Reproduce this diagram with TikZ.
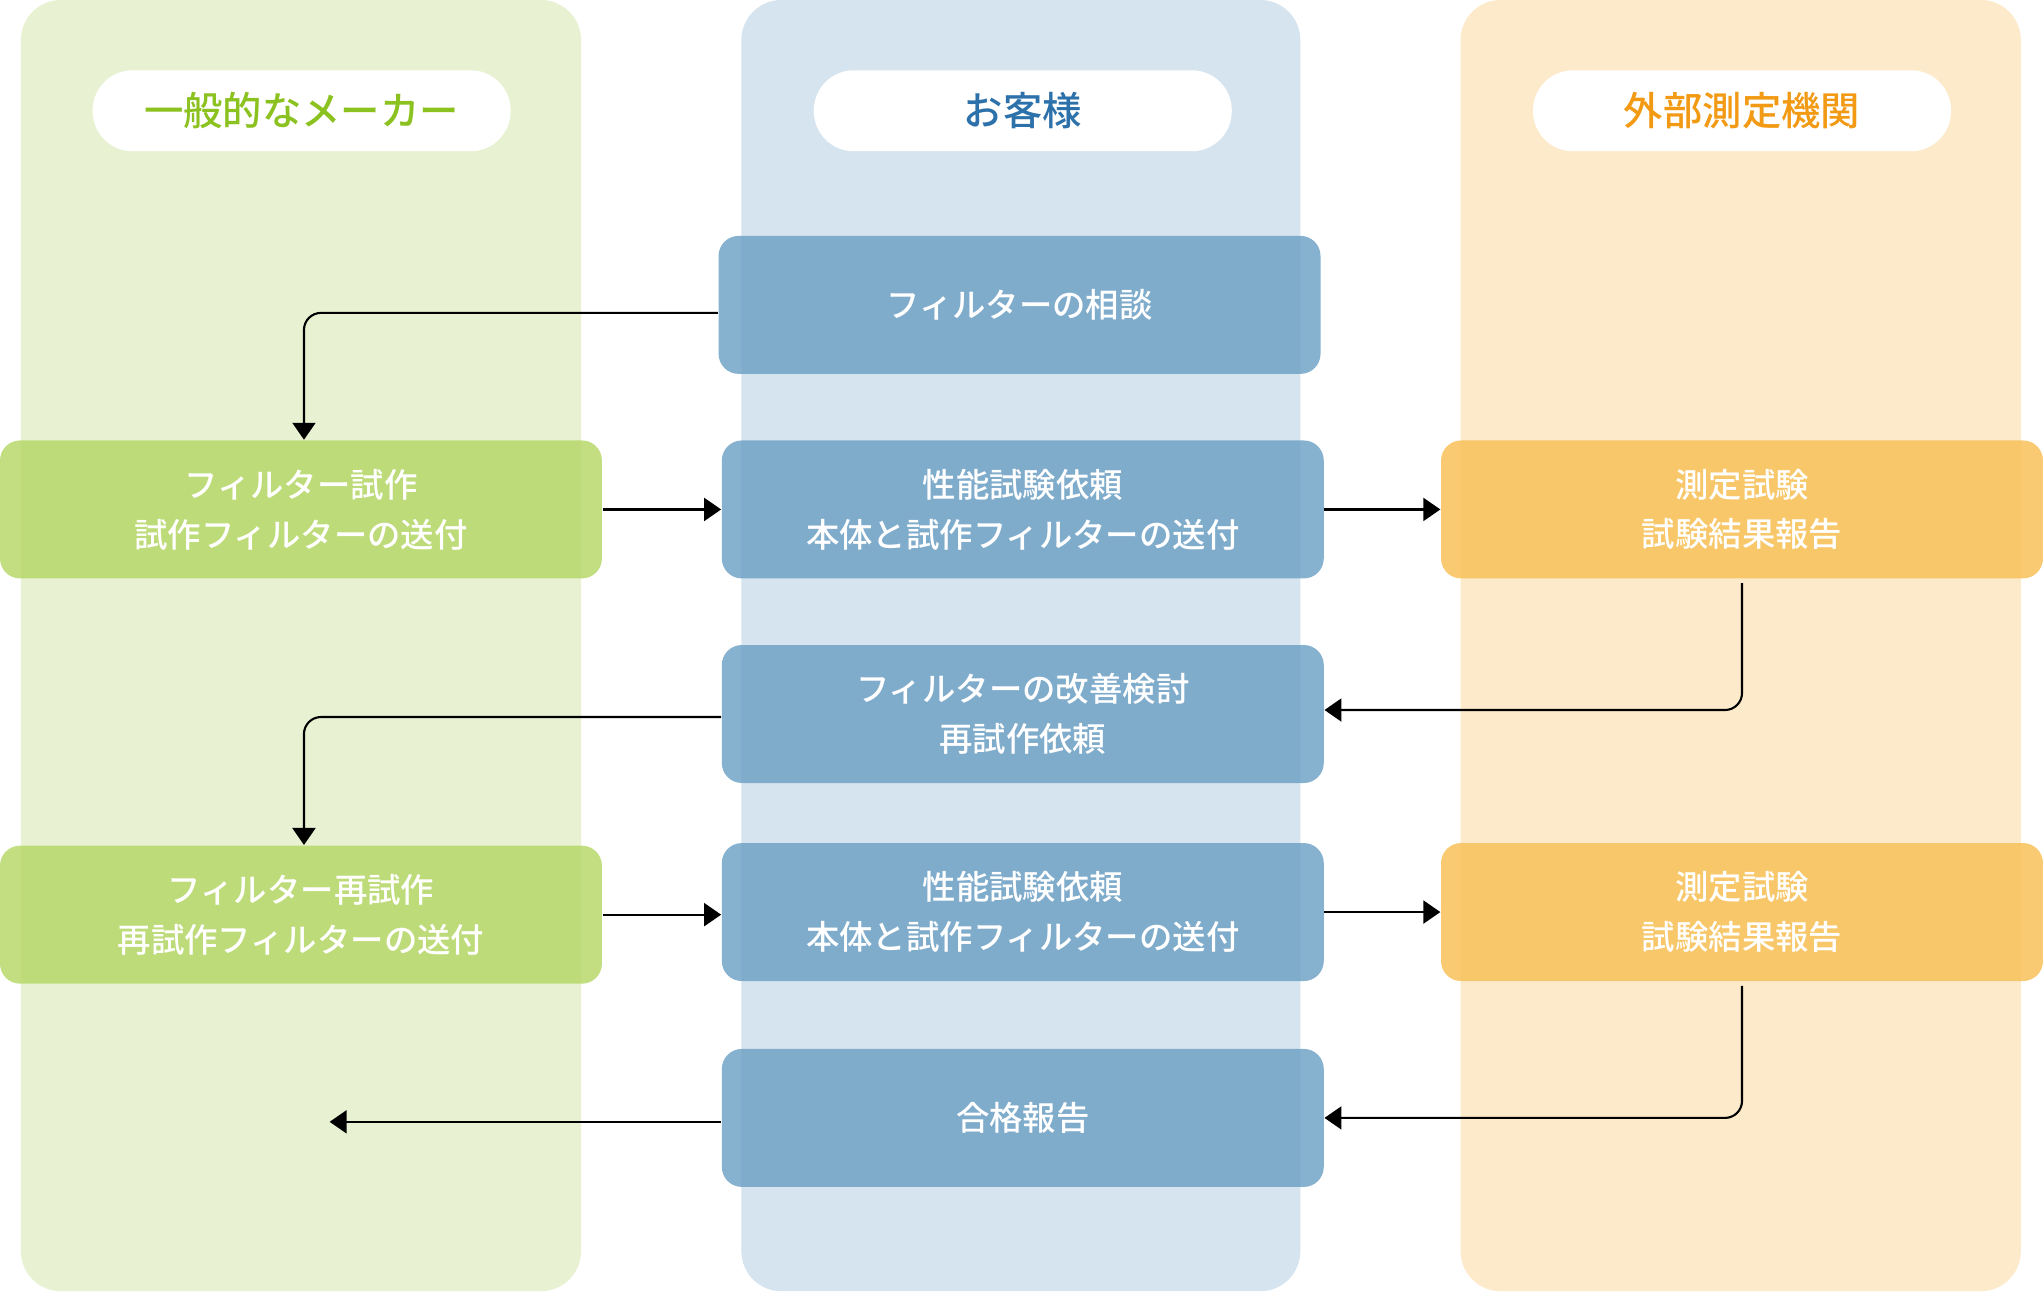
\documentclass[tikz,border=0pt]{standalone}
\usepackage{fontspec}
\setmainfont{Noto Sans CJK JP}
\newfontfamily\medium{Noto Sans CJK JP Medium}
\usetikzlibrary{arrows.meta}
\definecolor{greencol}{HTML}{E8F2D3}
\definecolor{bluecol}{HTML}{D6E4EF}
\definecolor{orangecol}{HTML}{FCEACB}
\definecolor{greenbox}{HTML}{B7D86A}
\definecolor{bluebox}{HTML}{71A3C7}
\definecolor{orangebox}{HTML}{F8C159}
\definecolor{greentext}{HTML}{8CC220}
\definecolor{bluetext}{HTML}{2C71AA}
\definecolor{orangetext}{HTML}{F29A14}
\tikzset{
  lane/.style={rounded corners=0.4cm},
  head/.style={fill=white, rounded corners=0.4cm, minimum width=4.18cm, minimum height=0.81cm, inner sep=0pt, font=\medium\fontsize{11.2}{14}\selectfont},
  box/.style={rounded corners=0.2cm, fill opacity=0.85, text opacity=1, text=white, minimum width=6.02cm, minimum height=1.38cm, inner sep=0pt, align=center, font=\medium\fontsize{9.5}{14.2}\selectfont},
  arr/.style={-{Triangle[length=1.7mm,width=2.3mm]}, line width=0.6pt, rounded corners=0.17cm}
}
\begin{document}
\begin{tikzpicture}[x=0.01303cm,y=-0.01303cm]
\useasboundingbox (0,0) rectangle (1568,991.6);
\fill[greencol,lane] (16,0) rectangle (446,991);
\fill[bluecol,lane] (569,0) rectangle (998,991);
\fill[orangecol,lane] (1121,0) rectangle (1551,991);
\node[head,text=greentext] (HM) at (231.5,85) {一般的なメーカー};
\node[head,text=bluetext] (HC) at (785,85) {お客様};
\node[head,text=orangetext] (HL) at (1337,85) {外部測定機関};
\node[box,fill=bluebox] (C1) at (782.5,234) {フィルターの相談};
\node[box,fill=greenbox] (M1) at (231,391) {フィルター試作\\試作フィルターの送付};
\node[box,fill=bluebox] (C2) at (785,391) {性能試験依頼\\本体と試作フィルターの送付};
\node[box,fill=orangebox] (L1) at (1337,391) {測定試験\\試験結果報告};
\node[box,fill=bluebox] (C3) at (785,548) {フィルターの改善検討\\再試作依頼};
\node[box,fill=greenbox] (M2) at (231,702) {フィルター再試作\\再試作フィルターの送付};
\node[box,fill=bluebox] (C4) at (785,700) {性能試験依頼\\本体と試作フィルターの送付};
\node[box,fill=orangebox] (L2) at (1337,700) {測定試験\\試験結果報告};
\node[box,fill=bluebox] (C5) at (785,858) {合格報告};
\coordinate (E) at (253,861);
\draw[arr] ([yshift=-0.08cm]C1.west) -| ([xshift=0.03cm]M1.north);
\draw[arr] (M1.east) -- (C2.west);
\draw[arr] (C2.east) -- (L1.west);
\draw[arr] ([yshift=-0.04cm]L1.south) |- ([yshift=0.04cm]C3.east);
\draw[arr] ([yshift=-0.03cm]C3.west) -| ([xshift=0.03cm]M2.north);
\draw[arr] (M2.east) -- (C4.west |- M2.east);
\draw[arr] (C4.east) -- (L2.west);
\draw[arr] ([yshift=-0.04cm]L2.south) |- (C5.east);
\draw[arr] (C5.west |- E) -- (E);
\end{tikzpicture}
\end{document}
